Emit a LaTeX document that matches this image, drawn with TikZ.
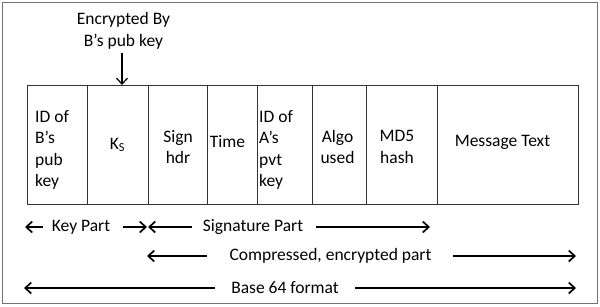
\documentclass[tikz,border=0pt]{standalone}
\usepackage{fontspec}
\setmainfont{Carlito}
\usetikzlibrary{arrows.meta}
\begin{document}
\begin{tikzpicture}[x=1pt,y=-1pt,
  cell/.style={draw=black!80, line width=0.9pt, minimum height=119pt, inner sep=0pt, anchor=north west},
  lbl/.style={font=\fontsize{17.5}{21.5}\selectfont, inner sep=0pt, align=center},
  lbll/.style={lbl, align=left, anchor=west},
  arr/.style={line width=1.7pt, -{Straight Barb[length=6pt,width=11pt]}},
  darr/.style={line width=1.2pt, -{Straight Barb[length=6pt,width=11pt]}}]
\useasboundingbox (0,0) rectangle (600,306);
\draw[black!55, line width=1pt] (2,2) rectangle (597.5,303.5);
% cells
\node[cell, minimum width=60pt] (c1) at (27,85) {};
\node[cell, minimum width=61pt] (c2) at (87,85) {};
\node[cell, minimum width=59pt] (c3) at (148,85) {};
\node[cell, minimum width=50pt] (c4) at (207,85) {};
\node[cell, minimum width=55pt] (c5) at (257,85) {};
\node[cell, minimum width=54pt] (c6) at (312,85) {};
\node[cell, minimum width=71pt] (c7) at (366,85) {};
\node[cell, minimum width=141pt] (c8) at (437,85) {};
% cell texts
\node[lbll] (t1) at (35,150) {ID of\\B’s\\pub\\key};
\node[lbl] (t2) at (117.5,145) {K\textsubscript{S}};
\node[lbl] (t3) at (178,147) {Sign\\hdr};
\node[lbl] (t4) at (227.5,142) {Time};
\node[lbll] (t5) at (259,150) {ID of\\A’s\\pvt\\key};
\node[lbl] (t6) at (337.5,147) {Algo\\used};
\node[lbl] (t7) at (397,147) {MD5\\hash};
\node[lbl] (t8) at (502.5,142) {Message Text};
% encrypted by
\node[lbl] (enc) at (123.5,31) {Encrypted By\\B’s pub key};
\coordinate (encs) at (122,53);
\draw[darr] (encs) -- (encs |- c2.north);
% row 1
\node[lbl] (kp) at (81,227) {Key Part};
\coordinate (k1) at (43,227); \coordinate (k1e) at (25,227);
\coordinate (k2) at (123,227); \coordinate (k2e) at (147,227);
\draw[arr] (k1) -- (k1e);
\draw[arr] (k2) -- (k2e);
\node[lbl] (sp) at (253,227) {Signature Part};
\coordinate (s1) at (192,227); \coordinate (s1e) at (148,227);
\coordinate (s2) at (316,227); \coordinate (s2e) at (430,227);
\draw[arr] (s1) -- (s1e);
\draw[arr] (s2) -- (s2e);
% row 2
\node[lbl] (cp) at (330.5,256) {Compressed, encrypted part};
\coordinate (p1) at (207,256); \coordinate (p1e) at (147,256);
\coordinate (p2) at (453,256); \coordinate (p2e) at (576,256);
\draw[arr] (p1) -- (p1e);
\draw[arr] (p2) -- (p2e);
% row 3
\node[lbl] (bf) at (285,288) {Base 64 format};
\coordinate (b1) at (215,288); \coordinate (b1e) at (24,288);
\coordinate (b2) at (355,288); \coordinate (b2e) at (576,288);
\draw[arr] (b1) -- (b1e);
\draw[arr] (b2) -- (b2e);
\end{tikzpicture}
\end{document}
